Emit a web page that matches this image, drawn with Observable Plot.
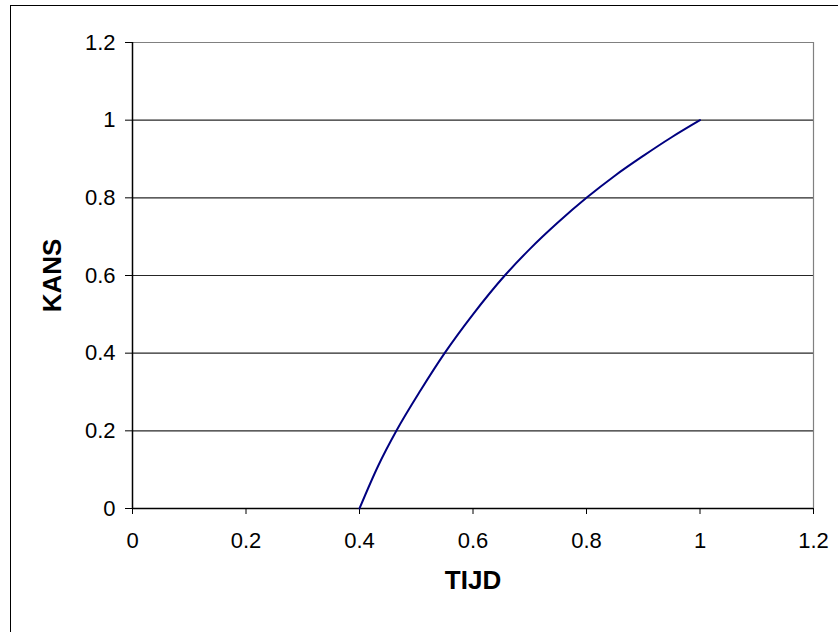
<!DOCTYPE html>
<html>
<head>
<meta charset="utf-8">
<script src="https://cdn.jsdelivr.net/npm/d3@7"></script>
<script src="https://cdn.jsdelivr.net/npm/@observablehq/plot@0.6"></script>
<style>
  html, body { margin: 0; padding: 0; background: #fff; overflow: hidden; }
  #wrap { position: relative; width: 838px; height: 632px; }
  #border { position: absolute; left: 10px; top: 5px; width: 900px; height: 700px; border: 1px solid #000; box-sizing: border-box; pointer-events: none; }
  #chart { position: absolute; left: 0; top: 0; }
</style>
</head>
<body>
<div id="wrap">
  <div id="border"></div>
  <div id="chart"></div>
</div>
<script>
// Time (TIJD) and probability (KANS) along the curve
const tijd = [0.4, 0.433, 0.465, 0.508, 0.55, 0.6, 0.656, 0.7, 0.75, 0.8, 0.85, 0.9, 0.95, 1.0];
const kans = [0, 0.11, 0.2, 0.305, 0.4, 0.5, 0.6, 0.668, 0.737, 0.8, 0.857, 0.908, 0.956, 1.0];

// Axis tick values
const xTicks = [0, 0.2, 0.4, 0.6, 0.8, 1, 1.2];
const yTicks = [0, 0.2, 0.4, 0.6, 0.8, 1, 1.2];

const points = tijd.map((t, i) => ({tijd: t, kans: kans[i]}));
const fmt = d => String(+d.toFixed(1));

const chart = Plot.plot({
  width: 838,
  height: 632,
  marginLeft: 132,
  marginRight: 25,
  marginTop: 42,
  marginBottom: 124,
  style: {fontFamily: "'Liberation Sans', Arial, sans-serif", fontSize: "22px", color: "#000", background: "transparent"},
  x: {domain: [0, 1.2]},
  y: {domain: [0, 1.2]},
  marks: [
    Plot.ruleY(yTicks.filter(d => d > 0 && d < 1.2), {stroke: "#000", strokeOpacity: 0.85, strokeWidth: 1.2}),
    Plot.ruleY([1.2], {stroke: "#808080", strokeWidth: 1.2}),
    Plot.ruleX([1.2], {stroke: "#808080", strokeWidth: 1.2}),
    Plot.ruleX([0], {stroke: "#000", strokeWidth: 1.5}),
    Plot.ruleY([0], {stroke: "#000", strokeWidth: 1.5}),
    Plot.axisX({ticks: xTicks, tickFormat: fmt, tickSize: 6, tickPadding: 18, label: null, fontSize: 22}),
    Plot.axisY({ticks: yTicks, tickFormat: fmt, tickSize: 7, tickPadding: 10, label: null, fontSize: 22}),
    Plot.line(points, {x: "tijd", y: "kans", stroke: "#000080", strokeWidth: 2, curve: "monotone-x"}),
    Plot.text(["TIJD"], {frameAnchor: "bottom", dy: 80, fontWeight: "bold", fontSize: 26, fill: "#000"}),
    Plot.text(["KANS"], {frameAnchor: "left", textAnchor: "middle", dx: -80, rotate: -90, fontWeight: "bold", fontSize: 26, fill: "#000"})
  ]
});

document.getElementById("chart").appendChild(chart);
</script>
</body>
</html>
